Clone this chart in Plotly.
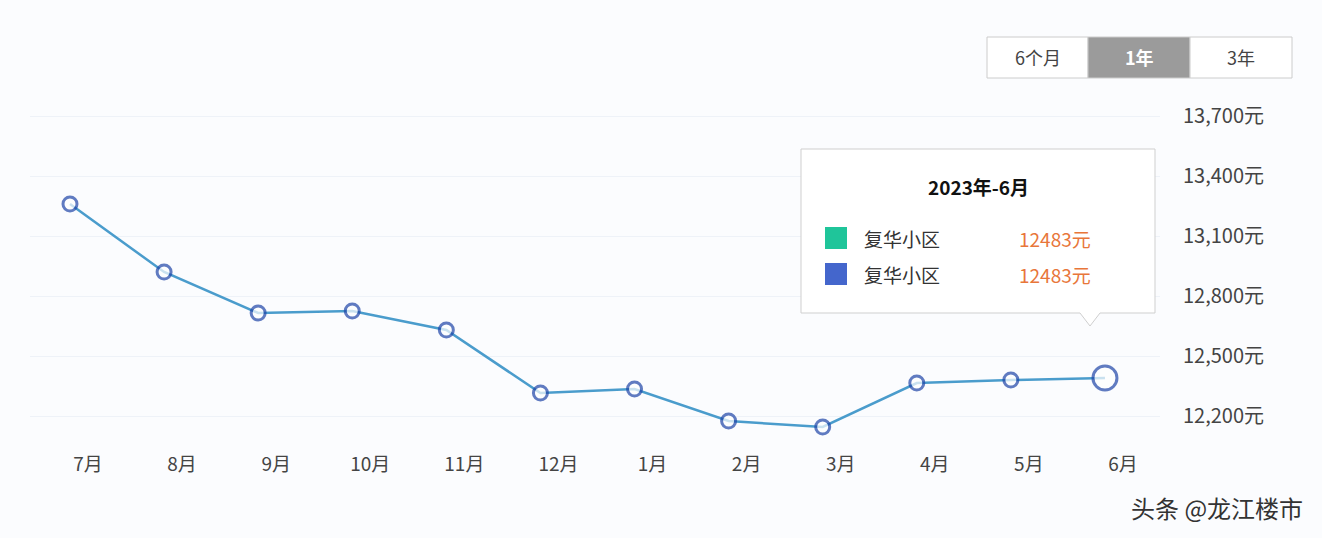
import plotly.graph_objects as go

months = ["7月", "8月", "9月", "10月", "11月", "12月", "1月", "2月", "3月", "4月", "5月", "6月"]
prices = [13260, 12920, 12715, 12725, 12630, 12315, 12335, 12175, 12145, 12365, 12380, 12390]
y_ticks = [12200, 12500, 12800, 13100, 13400, 13700]
y_labels = ["12,200元", "12,500元", "12,800元", "13,100元", "13,400元", "13,700元"]

W, H = 1322, 538
L, R, T, B = 30, 1160, 86, 447


def px(x):
    return (x - L) / (R - L)


def py(y):
    return (B - y) / (B - T)


sizes = [14] * (len(prices) - 1) + [24]

fig = go.Figure()
fig.add_trace(go.Scatter(
    x=months, y=prices, mode="lines+markers",
    line=dict(color="#4a9ccc", width=2.5),
    marker=dict(size=sizes, color="white", line=dict(color="#1f45a8", width=3)),
    hoverinfo="skip",
))

shapes = []
ann = []

# tooltip box
shapes.append(dict(type="path", xref="paper", yref="paper",
                   path=f"M {px(801)} {py(149)} L {px(1155)} {py(149)} L {px(1155)} {py(313)} "
                        f"L {px(1100)} {py(313)} L {px(1090)} {py(326)} L {px(1080)} {py(313)} "
                        f"L {px(801)} {py(313)} Z",
                   line=dict(color="#cfcfcf", width=1), fillcolor="white"))
ann.append(dict(x=px(978), y=py(186), text="<b>2023年-6月</b>", font=dict(size=19, color="#111")))
for yy, col in [(238, "#1fc59a"), (274, "#4466cc")]:
    shapes.append(dict(type="rect", xref="paper", yref="paper",
                       x0=px(825), x1=px(847), y0=py(yy - 11), y1=py(yy + 11),
                       fillcolor=col, line=dict(width=0)))
    ann.append(dict(x=px(862), y=py(yy), text="复华小区", xanchor="left",
                    font=dict(size=19, color="#333")))
    ann.append(dict(x=px(1017), y=py(yy), text="12483元", xanchor="left",
                    font=dict(size=19, color="#e8763a")))

# range buttons
for x0, x1, label, active in [(987, 1088, "6个月", False), (1088, 1190, "1年", True), (1190, 1292, "3年", False)]:
    shapes.append(dict(type="rect", xref="paper", yref="paper",
                       x0=px(x0), x1=px(x1), y0=py(37), y1=py(78),
                       fillcolor="#9b9b9b" if active else "white",
                       line=dict(color="#cccccc", width=1)))
    ann.append(dict(x=px((x0 + x1) / 2), y=py(57),
                    text=f"<b>{label}</b>" if active else label,
                    font=dict(size=18, color="white" if active else "#444")))

ann.append(dict(x=px(1305), y=py(507), text="头条 @龙江楼市", xanchor="right",
                font=dict(size=24, color="#333")))
for a in ann:
    a.update(xref="paper", yref="paper", showarrow=False, yanchor="middle")
    a.setdefault("xanchor", "center")
    a["font"].setdefault("family", "Noto Sans CJK SC")

fig.update_layout(
    width=W, height=H,
    margin=dict(l=L, r=W - R, t=T, b=H - B),
    paper_bgcolor="#fbfcfe", plot_bgcolor="#fbfcfe",
    showlegend=False,
    font=dict(family="Noto Sans CJK SC", size=19, color="#444"),
    shapes=shapes, annotations=ann,
    xaxis=dict(type="category", range=[-0.425, 11.585], showgrid=False, zeroline=False,
               showline=False, ticks="", ticklabelshift=18, ticklabelstandoff=4),
    yaxis=dict(side="right", range=[12045, 13850], tickvals=y_ticks, ticktext=y_labels,
               gridcolor="#eef2f8", zeroline=False, showline=False, ticks="",
               ticklabelstandoff=22, tickfont=dict(size=20)),
)

fig.write_html("out.html", config={"displayModeBar": False},
               post_script="document.body.style.margin='0';")
